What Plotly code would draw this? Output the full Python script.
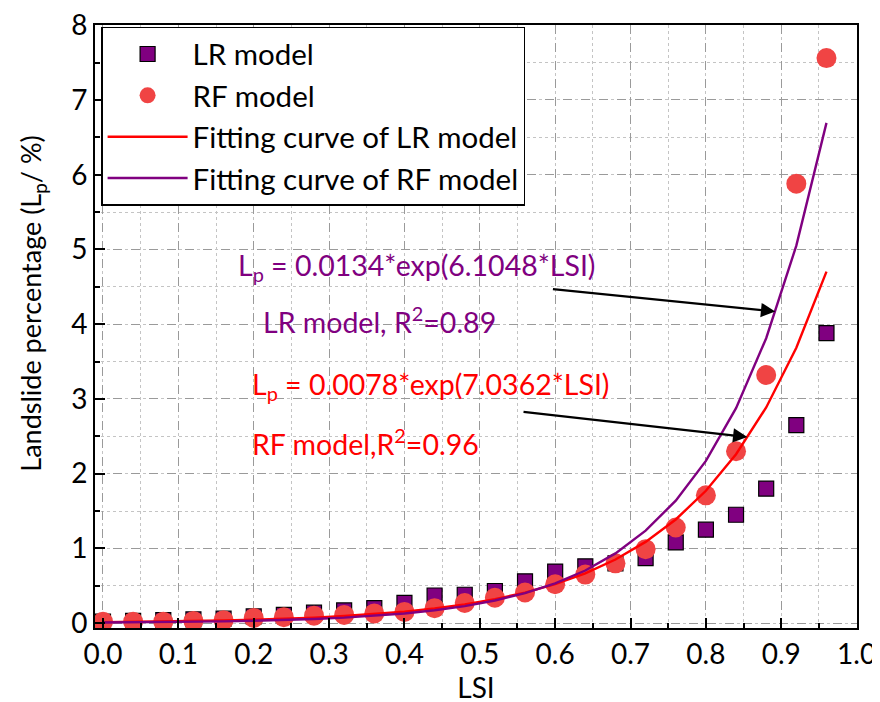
import plotly.graph_objects as go

lsi = [0.00, 0.04, 0.08, 0.12, 0.16, 0.20, 0.24, 0.28, 0.32, 0.36, 0.40, 0.44, 0.48,
       0.52, 0.56, 0.60, 0.64, 0.68, 0.72, 0.76, 0.80, 0.84, 0.88, 0.92, 0.96]

lr_points = [0.02, 0.03, 0.04, 0.05, 0.06, 0.09, 0.11, 0.14, 0.17, 0.20, 0.27, 0.37, 0.38,
             0.43, 0.56, 0.69, 0.76, 0.80, 0.87, 1.08, 1.25, 1.45, 1.80, 2.65, 3.88]

rf_points = [0.02, 0.02, 0.02, 0.03, 0.04, 0.07, 0.08, 0.10, 0.11, 0.13, 0.15, 0.20, 0.27,
             0.34, 0.41, 0.52, 0.65, 0.80, 0.99, 1.28, 1.71, 2.30, 3.32, 5.88, 7.56]

lr_fit = [0.013, 0.017, 0.022, 0.028, 0.036, 0.045, 0.058, 0.074, 0.095, 0.121, 0.154, 0.197, 0.251,
          0.320, 0.409, 0.522, 0.667, 0.851, 1.087, 1.387, 1.771, 2.260, 2.886, 3.684, 4.703]

rf_fit = [0.008, 0.010, 0.014, 0.018, 0.024, 0.032, 0.042, 0.056, 0.074, 0.098, 0.130, 0.172, 0.228,
          0.303, 0.401, 0.532, 0.704, 0.933, 1.237, 1.639, 2.171, 2.877, 3.812, 5.051, 6.693]

x_ticks = [0.0, 0.1, 0.2, 0.3, 0.4, 0.5, 0.6, 0.7, 0.8, 0.9, 1.0]
y_ticks = [0, 1, 2, 3, 4, 5, 6, 7, 8]

FONT = "Lato"
PURPLE = "#800080"
RED_PT = "#F04444"
RED_LN = "#FF0000"

fig = go.Figure()
fig.add_trace(go.Scatter(x=lsi, y=lr_points, mode="markers", name="LR model",
                         legendgroup="a",
                         marker=dict(symbol="square", size=15, color=PURPLE,
                                     line=dict(color="black", width=1.2))))
fig.add_trace(go.Scatter(x=lsi, y=rf_points, mode="markers", name="RF model",
                         legendgroup="b",
                         marker=dict(symbol="circle", size=20, color=RED_PT,
                                     line=dict(width=0))))
fig.add_trace(go.Scatter(x=lsi, y=lr_fit, mode="lines", name="Fitting curve of LR model",
                         legendgroup="c",
                         line=dict(color=RED_LN, width=2.4)))
fig.add_trace(go.Scatter(x=lsi, y=rf_fit, mode="lines", name="Fitting curve of RF model",
                         legendgroup="d",
                         line=dict(color=PURPLE, width=2.4)))

ann_font = 28.5
annotations = [
    dict(x=0.176, y=4.76, text="L<sub>p</sub> = 0.0134*exp(6.1048*LSI)", showarrow=False,
         xanchor="left", yanchor="middle", font=dict(color=PURPLE, size=ann_font)),
    dict(x=0.210, y=4.05, text="LR model, R<sup>2</sup>=0.89", showarrow=False,
         xanchor="left", yanchor="middle", font=dict(color=PURPLE, size=ann_font)),
    dict(x=0.195, y=3.17, text="L<sub>p</sub> = 0.0078*exp(7.0362*LSI)", showarrow=False,
         xanchor="left", yanchor="middle", font=dict(color=RED_LN, size=ann_font)),
    dict(x=0.195, y=2.42, text="RF model,R<sup>2</sup>=0.96", showarrow=False,
         xanchor="left", yanchor="middle", font=dict(color=RED_LN, size=ann_font)),
    dict(x=0.892, y=4.17, ax=0.595, ay=4.47, axref="x", ayref="y", xref="x", yref="y",
         text="", showarrow=True, arrowhead=2, arrowsize=1.3, arrowwidth=2.2, arrowcolor="black"),
    dict(x=0.855, y=2.49, ax=0.556, ay=2.83, axref="x", ayref="y", xref="x", yref="y",
         text="", showarrow=True, arrowhead=2, arrowsize=1.3, arrowwidth=2.2, arrowcolor="black"),
    # y-axis title
    dict(x=-0.082, y=0.537, xref="paper", yref="paper", xanchor="center", yanchor="middle",
         text="Landslide percentage (L<sub>p</sub>/ %)", textangle=-90, showarrow=False,
         font=dict(size=27, color="black")),
]

# page body has an 8px margin, so the figure is offset by 8px; margins compensate
fig.update_layout(
    width=880, height=702,
    margin=dict(l=87, r=31, t=17, b=82),
    paper_bgcolor="white", plot_bgcolor="white",
    font=dict(family=FONT, color="black", size=28),
    annotations=annotations,
    showlegend=True,
    legend=dict(x=0.008, y=0.997, xanchor="left", yanchor="top",
                bgcolor="white", bordercolor="black", borderwidth=1.5,
                font=dict(size=29.5, family=FONT), itemwidth=80,
                tracegroupgap=8, traceorder="normal"),
)

fig.update_xaxes(
    range=[-0.0106, 1.0005], tickvals=x_ticks, tickformat=".1f", automargin=False,
    ticklabeloverflow="allow",
    showline=True, linecolor="black", linewidth=2, mirror=True,
    ticks="inside", ticklen=10, tickwidth=2, tickcolor="black",
    showgrid=True, gridcolor="#9A9A9A", griddash="dash", gridwidth=1,
    zeroline=False,
    minor=dict(dtick=0.05, tick0=0, ticks="inside", ticklen=5, tickwidth=2, tickcolor="black",
               showgrid=True, gridcolor="#C4C4C4", griddash="dot", gridwidth=1),
    title=dict(text="LSI", font=dict(size=28), standoff=7),
    tickfont=dict(size=28),
)
fig.update_yaxes(
    range=[-0.065, 8.003], tickvals=y_ticks, automargin=False,
    ticklabeloverflow="allow",
    showline=True, linecolor="black", linewidth=2, mirror=True,
    ticks="inside", ticklen=10, tickwidth=2, tickcolor="black",
    showgrid=True, gridcolor="#9A9A9A", griddash="dash", gridwidth=1,
    zeroline=False,
    minor=dict(dtick=0.5, tick0=0, ticks="inside", ticklen=5, tickwidth=2, tickcolor="black",
               showgrid=True, gridcolor="#C4C4C4", griddash="dot", gridwidth=1),
    tickfont=dict(size=28),
)

fig.write_html("out.html")
